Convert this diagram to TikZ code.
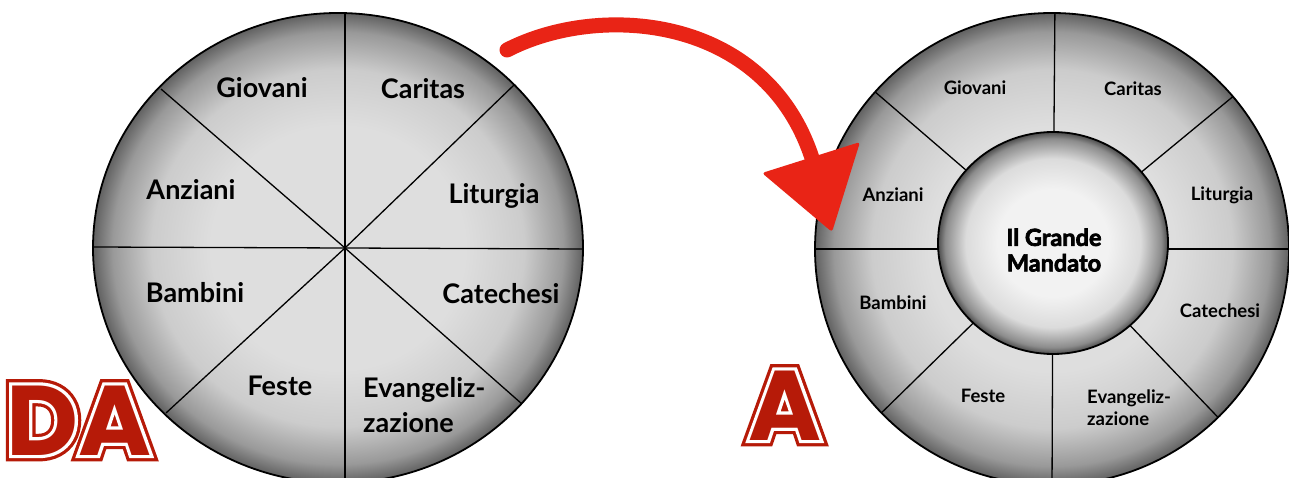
\documentclass[tikz,border=0pt]{standalone}
\usepackage{fontspec}
\setmainfont{Lato}
\newfontfamily\heavyfont{Lato}[BoldFeatures={FakeBold=3}]
\newfontfamily\bigcore{Poppins Bold}
\newfontfamily\bigwhite{Poppins Bold}[FakeBold=6.5]
\newfontfamily\bigouter{Poppins Bold}[FakeBold=13]
\definecolor{redA}{RGB}{233,36,22}
\definecolor{redL}{RGB}{182,26,8}
\definecolor{gA}{gray}{0.87}
\definecolor{gB}{gray}{0.80}
\definecolor{gC}{gray}{0.60}
\definecolor{gD}{gray}{0.38}
\definecolor{wA}{gray}{0.95}
\definecolor{wB}{gray}{0.86}
\definecolor{wC}{gray}{0.55}
\definecolor{wD}{gray}{0.30}
\pgfdeclareradialshading{rimshade}{\pgfpoint{0bp}{0bp}}{color(0bp)=(gA); color(13bp)=(gA); color(19bp)=(gB); color(23bp)=(gC); color(25bp)=(gD); color(50bp)=(gD)}
\pgfdeclareradialshading{innershade}{\pgfpoint{0bp}{0bp}}{color(0bp)=(wA); color(12bp)=(wA); color(19bp)=(wB); color(23.5bp)=(wC); color(25bp)=(wD); color(50bp)=(wD)}
\begin{document}
\begin{tikzpicture}[x=1pt,y=-1pt,
  lab/.style={font=\fontsize{27}{35}\selectfont\bfseries, inner sep=0pt, align=left},
  slab/.style={font=\fontsize{18.5}{22}\selectfont\bfseries, inner sep=0pt, align=left},
  clab/.style={font=\heavyfont\fontsize{23.5}{25.5}\selectfont\bfseries, inner sep=0pt, align=center},
  rimline/.style={line width=1.8pt, draw=black},
  spoke/.style={line width=1.3pt, draw=black},
  bigtxt/.style={inner sep=0pt, anchor=base west, font=\fontsize{99}{99}\selectfont}]
\useasboundingbox (0,0) rectangle (1289,478);
\fill[white] (0,0) rectangle (1289,478);

% ---------- left circle ----------
\shade[shading=rimshade] (338,248) ellipse [x radius=245pt, y radius=235pt];
\coordinate (Lc) at (345,248);
\coordinate (Lt) at (345,13);
\coordinate (Lb) at (345,486);
\coordinate (Ll) at (93,247);
\coordinate (Lr) at (583,249);
\coordinate (Lul) at (161,89);
\coordinate (Lur) at (514,85);
\coordinate (Lll) at (166,413);
\coordinate (Llr) at (522,404);
\foreach \p in {Lt,Lb,Ll,Lr,Lul,Lur,Lll,Llr} \draw[spoke] (Lc) -- (\p);
\draw[rimline] (338,248) ellipse [x radius=245pt, y radius=235pt];

\node[lab] (lgio) at (262,88) {Giovani};
\node[lab] (lcar) at (423,89) {Caritas};
\node[lab] (lanz) at (191,190) {Anziani};
\node[lab] (llit) at (494,196) {Liturgia};
\node[lab] (lbam) at (195,293) {Bambini};
\node[lab] (lcat) at (501,294) {Catechesi};
\node[lab] (lfes) at (280,386) {Feste};
\node[lab, anchor=west] (leva) at (363,405) {Evangeliz-\\zazione};

% ---------- right circle ----------
\shade[shading=rimshade] (1052,249) ellipse [x radius=237pt, y radius=236pt];
\coordinate (Rc) at (1053,245);
\begin{scope}
\clip (1052,249) ellipse [x radius=237pt, y radius=236pt];
\coordinate (Rt) at (1055,0);
\coordinate (Rb) at (1052,490);
\coordinate (Rl) at (780,249);
\coordinate (Rr) at (1300,249);
\coordinate (Rul) at (795,23);
\coordinate (Rur) at (1293,47);
\coordinate (Rll) at (777,515);
\coordinate (Rlr) at (1323,527);
\draw[spoke] (Rc) -- (Rt);
\draw[spoke] (Rc) -- (Rb);
\draw[spoke] (1053,249) -- (Rl);
\draw[spoke] (1053,249) -- (Rr);
\draw[spoke] (Rc) -- (Rul);
\draw[spoke] (Rc) -- (Rur);
\draw[spoke] (Rc) -- (Rll);
\draw[spoke] (Rc) -- (Rlr);
\end{scope}
\draw[rimline] (1052,249) ellipse [x radius=237pt, y radius=236pt];
\shade[shading=innershade] (1053,243) ellipse [x radius=115pt, y radius=111pt];
\draw[rimline] (1053,243) ellipse [x radius=115pt, y radius=111pt];

\node[clab] (rmid) at (1054,250) {Il Grande\\Mandato};
\node[slab] (rgio) at (975,88) {Giovani};
\node[slab] (rcar) at (1133,89) {Caritas};
\node[slab] (ranz) at (893,195) {Anziani};
\node[slab] (rlit) at (1222,195) {Liturgia};
\node[slab] (rbam) at (893,303) {Bambini};
\node[slab] (rcat) at (1220,311) {Catechesi};
\node[slab] (rfes) at (983,396) {Feste};
\node[slab, anchor=west] (reva) at (1087,408) {Evangeliz-\\zazione};

% ---------- red arrow ----------
\coordinate (arS) at (507,50);
\coordinate (arE) at (812,158);
\draw[redA, line width=15pt, line cap=round] (arS) .. controls (600,2) and (765,15) .. (arE);
\fill[redA, rounded corners=3pt] (762,173) -- (860,142) -- (832,232) -- cycle;

% ---------- DA / A ----------
\node[bigtxt, text=redL] (daO) at (6,455) {\bigouter DA};
\node[bigtxt, text=white] (daW) at (6,455) {\bigwhite DA};
\node[bigtxt, text=redL] (daC) at (6,455) {\bigcore DA};
\node[bigtxt, text=redL] (aO) at (748,440) {\bigouter A};
\node[bigtxt, text=white] (aW) at (748,440) {\bigwhite A};
\node[bigtxt, text=redL] (aC) at (748,440) {\bigcore A};
\end{tikzpicture}
\end{document}
